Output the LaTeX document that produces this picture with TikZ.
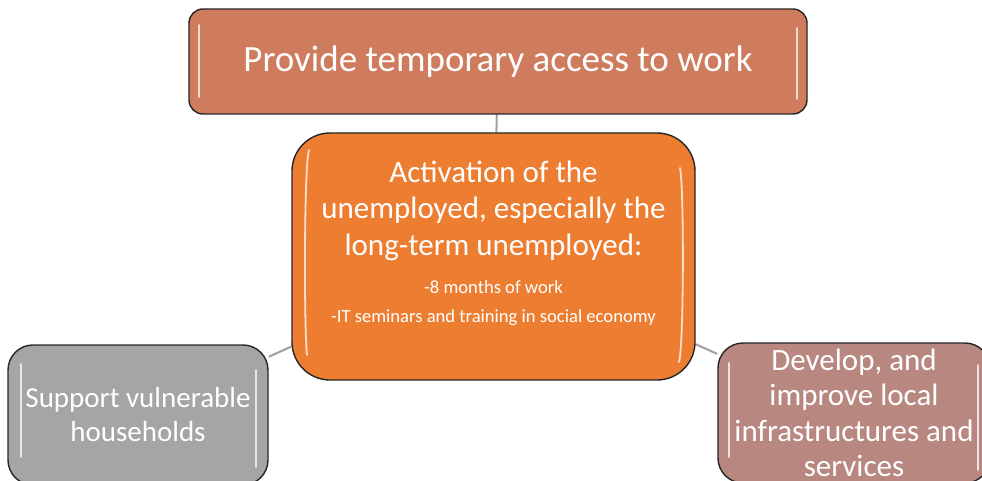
\documentclass[tikz,border=0pt]{standalone}
\usepackage{fontspec}
\setmainfont{Carlito}
\usetikzlibrary{backgrounds}
\definecolor{topfill}{RGB}{207,123,93}
\definecolor{midfill}{RGB}{237,125,49}
\definecolor{leftfill}{RGB}{165,165,165}
\definecolor{rightfill}{RGB}{184,135,128}
\definecolor{linkgray}{RGB}{160,160,160}
\tikzset{
  box/.style={draw=black!85, line width=1.4pt, text=white, align=center, inner sep=0pt},
  link/.style={draw=linkgray, line width=2pt},
  gloss/.style={draw=white, line width=1.8pt, line cap=round, opacity=0.75},
}
\begin{document}
\begin{tikzpicture}[x=1pt,y=-1pt]
\useasboundingbox (0,0) rectangle (982,481);
\clip (0,0) rectangle (982,481);
% boxes
\node[box, fill=topfill, rounded corners=14pt, minimum width=618pt, minimum height=105pt,
      font=\fontsize{37}{44}\selectfont] (top) at (498,61.5) {Provide temporary access to work};
\node[box, fill=midfill, rounded corners=38pt, minimum width=403pt, minimum height=247pt] (mid) at (493.5,256.5) {};
\node[box, fill=leftfill, rounded corners=25pt, minimum width=260pt, minimum height=140pt,
      font=\fontsize{29}{34}\selectfont] (left) at (138,415) {Support vulnerable\\households};
\node[box, fill=rightfill, rounded corners=25pt, minimum width=272pt, minimum height=140pt,
      font=\fontsize{31}{35.5}\selectfont] (right) at (854,413) {Develop, and\\improve local\\infrastructures and\\services};
% text of the centre box
\node[text=white, align=center, font=\fontsize{31}{36.5}\selectfont, anchor=base] (midtitle) at (493.5,255)
  {Activation of the\\unemployed, especially the\\long-term unemployed:};
\node[text=white, align=center, font=\fontsize{18.6}{29}\selectfont, anchor=base] (miditems) at (493.5,322)
  {-8 months of work\\-IT seminars and training in social economy};
% connectors
\begin{scope}[on background layer]
\draw[link] (top) -- (mid);
\draw[link] (mid) -- (left);
\draw[link] (mid) -- (right);
\end{scope}
% gloss highlights
\draw[gloss] (199,25) -- (199,97);
\draw[gloss] (797,28) -- (797,99);
\draw[gloss] (309,150) .. controls (304,165) and (304,330) .. (307,355);
\draw[gloss] (680,168) .. controls (684,185) and (684,345) .. (679,362);
\draw[gloss] (21,364) -- (21,457);
\draw[gloss] (256,370) -- (256,467);
\draw[gloss] (729,363) -- (729,457);
\draw[gloss] (978,365) -- (978,470);
\end{tikzpicture}
\end{document}
